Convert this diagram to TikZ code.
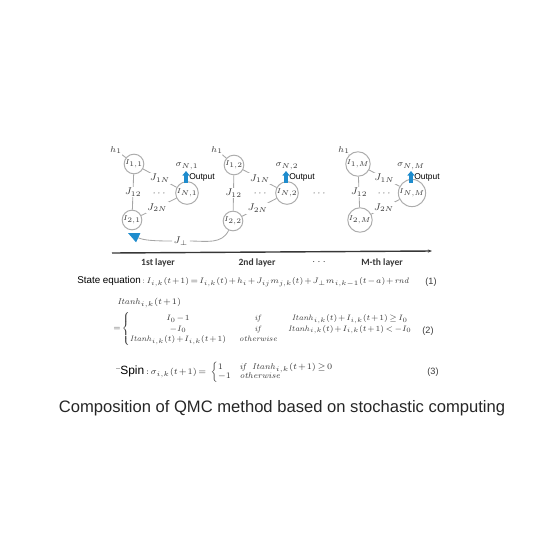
\documentclass[tikz,border=0pt]{standalone}
\usepackage{amsmath}
\usepackage[no-math]{fontspec}
\setmainfont{Liberation Sans}
\newfontfamily\layerfont{Carlito}
\usetikzlibrary{arrows.meta, positioning, calc}

\definecolor{outblue}{RGB}{30,140,205}
\definecolor{ink}{RGB}{55,55,55}
\newcommand{\eqsize}{\fontsize{6}{8}\selectfont\medmuskip=1.5mu\thickmuskip=2.5mu}

\tikzset{
  spin/.style={circle, draw=gray!65, line width=0.7pt, minimum size=0.45cm,
               inner sep=0pt, text=ink, font=\fontsize{5}{6}\selectfont},
  lbl/.style={inner sep=0.5pt, text=ink, font=\fontsize{6}{7}\selectfont},
  coup/.style={fill=white, inner sep=1pt, text=ink, font=\fontsize{7}{8}\selectfont},
  edge/.style={draw=gray!70, line width=0.6pt},
  outarrow/.style={-{Triangle[length=3.2pt,width=5pt]}, line width=2.2pt, draw=outblue},
  outtxt/.style={anchor=west, inner sep=0pt, font=\fontsize{6}{7}\selectfont},
  layer/.style={inner sep=0pt, text=ink, font=\layerfont\bfseries\fontsize{6.8}{8}\selectfont},
  eqtxt/.style={anchor=west, inner sep=0pt, font=\fontsize{7}{8}\selectfont},
  eqnum/.style={inner sep=0pt, text=ink, font=\rmfamily\fontsize{6.5}{8}\selectfont}
}

\begin{document}
\begin{tikzpicture}[x=0.025cm, y=-0.025cm]
  \useasboundingbox (0,0) rectangle (560,560);

  % 1st layer
  \node[spin] (I11) at (134,164) {$I_{1,1}$};
  \node[spin] (IN1) at (187,193) {$I_{N,1}$};
  \node[spin] (I21) at (132,220) {$I_{2,1}$};
  \node[lbl] (ha) at (116,150) {$h_1$};
  \node[lbl] (sN1) at (187,166) {$\sigma_{N,1}$};
  \node[lbl] (da) at (160,193) {$\cdots$};
  \draw[edge] (ha) -- (I11);
  \draw[edge] (I11) -- node[coup] {$J_{1N}$} (IN1);
  \draw[edge] (I11) -- node[coup] {$J_{12}$} (I21);
  \draw[edge] (I21) -- node[coup, pos=0.45] {$J_{2N}$} (IN1);
  \coordinate (a1b) at (186,183);
  \coordinate (a1t) at (186,171);
  \draw[outarrow] (a1b) -- (a1t);
  \node[outtxt] (out1) at (189,177) {Output};

  % 2nd layer
  \node[spin] (I12) at (234,165) {$I_{1,2}$};
  \node[spin] (IN2) at (287,193) {$I_{N,2}$};
  \node[spin] (I22) at (233,221) {$I_{2,2}$};
  \node[lbl] (hb) at (217,150) {$h_1$};
  \node[lbl] (sN2) at (287,166) {$\sigma_{N,2}$};
  \node[lbl] (db) at (261,193) {$\cdots$};
  \draw[edge] (hb) -- (I12);
  \draw[edge] (I12) -- node[coup] {$J_{1N}$} (IN2);
  \draw[edge] (I12) -- node[coup] {$J_{12}$} (I22);
  \draw[edge] (I22) -- node[coup, pos=0.45] {$J_{2N}$} (IN2);
  \coordinate (a2b) at (286,183);
  \coordinate (a2t) at (286,171);
  \draw[outarrow] (a2b) -- (a2t);
  \node[outtxt] (out2) at (289,177) {Output};

  \node[lbl] (dmid) at (320,193) {$\cdots$};

  % M-th layer
  \node[spin] (I1M) at (358,164) {$I_{1,M}$};
  \node[spin] (INM) at (412,193) {$I_{N,M}$};
  \node[spin] (I2M) at (360,220) {$I_{2,M}$};
  \node[lbl] (hc) at (344,150) {$h_1$};
  \node[lbl] (sNM) at (411,166) {$\sigma_{N,M}$};
  \node[lbl] (dc) at (385,193) {$\cdots$};
  \draw[edge] (hc) -- (I1M);
  \draw[edge] (I1M) -- node[coup] {$J_{1N}$} (INM);
  \draw[edge] (I1M) -- node[coup] {$J_{12}$} (I2M);
  \draw[edge] (I2M) -- node[coup, pos=0.45] {$J_{2N}$} (INM);
  \coordinate (a3b) at (411,183);
  \coordinate (a3t) at (411,171);
  \draw[outarrow] (a3b) -- (a3t);
  \node[outtxt] (out3) at (414,177) {Output};

  % inter-layer coupling
  \node[coup] (Jp) at (181,241) {$J_\perp$};
  \coordinate (tip) at (128,233);
  \draw[edge] (I22) to[out=-115, in=0] (Jp);
  \draw[edge, -{Triangle[length=8pt, width=7pt, color=outblue]}] (Jp) to[out=180, in=-25] (tip);

  % layer axis
  \coordinate (ax0) at (112,253);
  \coordinate (ax1) at (432,251);
  \draw[ink, line width=1pt, -{Stealth[length=3pt]}] (ax0) -- (ax1);
  \node[layer] (L1) at (158,263) {1st layer};
  \node[layer] (L2) at (257,263) {2nd layer};
  \node[layer] (Ld) at (320,262) {$\cdots$};
  \node[layer] (LM) at (382,263) {M-th layer};

  % equations
  \node[eqtxt] (st) at (77,282) {State equation\,{\eqsize\color{ink}\scalebox{0.95}{$: I_{i,k}(t+1)=I_{i,k}(t)+h_i+J_{ij}m_{j,k}(t)+J_{\perp}m_{i,k-1}(t-a)+\mathit{rnd}$}}};
  \node[eqnum] (n1) at (431,282) {(1)};

  \node[eqtxt, text=ink] (it) at (117,303) {\eqsize$\mathit{Itanh}_{i,k}(t+1)$};
  \node[eqtxt, text=ink, scale=0.93] (cs) at (113,329) {\eqsize$=\left\{\begin{array}{@{}c@{\hspace{10pt}}c@{\hspace{8pt}}c@{}}
      I_0-1 & \mathit{if} & \mathit{Itanh}_{i,k}(t)+I_{i,k}(t+1)\geq I_0\\
      -I_0 & \mathit{if} & \mathit{Itanh}_{i,k}(t)+I_{i,k}(t+1)<-I_0\\
      \mathit{Itanh}_{i,k}(t)+I_{i,k}(t+1) & \mathit{otherwise} &
    \end{array}\right.$};
  \node[eqnum] (n2) at (428,331) {(2)};

  \draw[gray!60, line width=0.4pt] (116,368) -- (120,368);
  \node[eqtxt, font=\fontsize{8.5}{9}\selectfont] (sp) at (120,372) {Spin\,{\eqsize\color{ink}$: \sigma_{i,k}(t+1)=\hspace{2pt}\left\{\begin{array}{@{}l@{\hspace{6pt}}l@{}}
      1 & \mathit{if}\ \ \mathit{Itanh}_{i,k}(t+1)\geq 0\\[-1.5pt]
      -1 & \mathit{otherwise}
    \end{array}\right.$}};
  \node[eqnum] (n3) at (433,372) {(3)};

  % caption
  \node[inner sep=0pt, text=black!85, font=\fontsize{11.8}{13}\selectfont] (cap) at (282,408) {Composition of QMC method based on stochastic computing};
\end{tikzpicture}
\end{document}
